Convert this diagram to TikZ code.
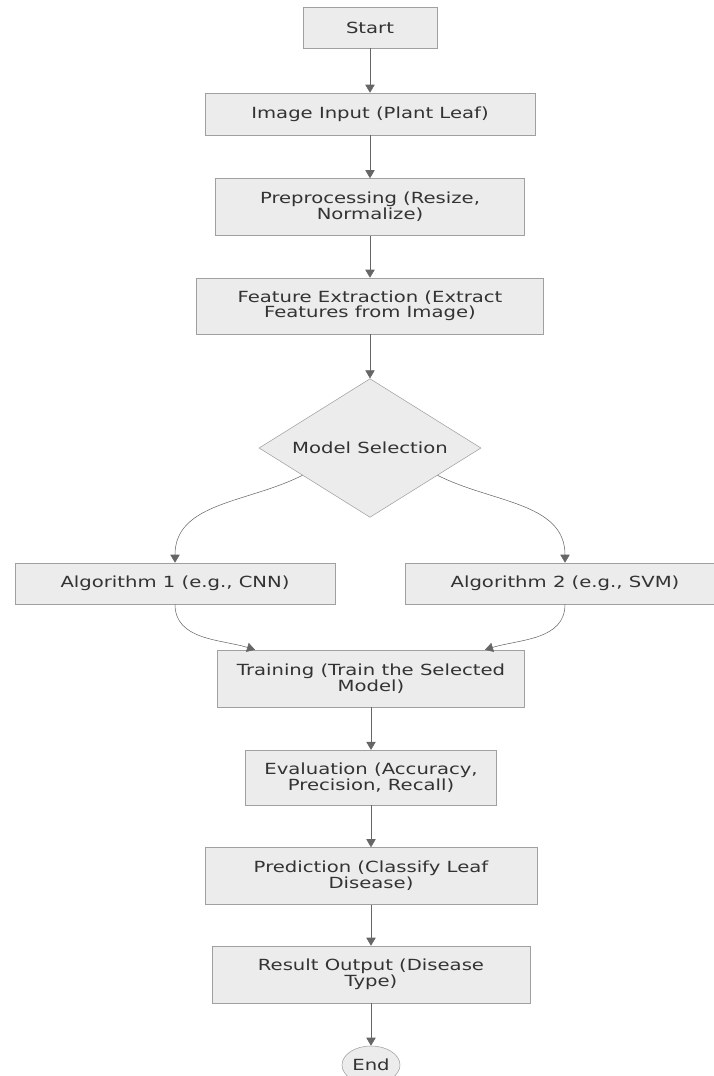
\documentclass[tikz,border=0pt]{standalone}
\usepackage{fontspec}
\setmainfont{DejaVu Sans}[FakeStretch=1.28]
\usepackage[HTML]{xcolor}
\usetikzlibrary{positioning, arrows.meta, shapes.geometric}
\definecolor{boxfill}{HTML}{ECECEC}
\definecolor{boxline}{HTML}{A0A0A0}
\definecolor{flow}{HTML}{666666}
\definecolor{ink}{HTML}{333333}

\begin{document}
\begin{tikzpicture}[x=0.75pt, y=-0.75pt,
  stepbox/.style={draw=boxline, fill=boxfill, text=ink, align=center, inner sep=0pt,
    font=\fontsize{11.5}{11}\selectfont},
  choice/.style={diamond, shape aspect=1.6, draw=boxline, fill=boxfill, text=ink, inner sep=0pt,
    font=\fontsize{11.5}{11}\selectfont},
  flowline/.style={draw=flow, -{Triangle[length=6pt, width=7pt]}}]
\clip (0,0) rectangle (714,1076);

\node[stepbox, minimum width=100.5pt, minimum height=30.75pt] (start)  at (370,27.5)  {Start};
\node[stepbox, minimum width=247.5pt, minimum height=31.5pt]  (input)  at (370,114)   {Image Input (Plant Leaf)};
\node[stepbox, minimum width=232pt,   minimum height=42.75pt] (prep)   at (370,207)   {Preprocessing (Resize,\\Normalize)};
\node[stepbox, minimum width=260pt,   minimum height=42pt]    (feat)   at (370,306)   {Feature Extraction (Extract\\Features from Image)};
\node[choice,  minimum width=166.5pt, minimum height=104pt]   (sel)    at (370,448)   {Model Selection};
\node[stepbox, minimum width=240pt,   minimum height=30.75pt] (alg1)   at (175,583.5) {Algorithm 1 (e.g., CNN)};
\node[stepbox, minimum width=240pt,   minimum height=30.75pt] (alg2)   at (565,583.5) {Algorithm 2 (e.g., SVM)};
\node[stepbox, minimum width=230pt,   minimum height=42.75pt] (train)  at (371,678.5) {Training (Train the Selected\\Model)};
\node[stepbox, minimum width=188pt,   minimum height=41pt]    (eval)   at (371,777.5) {Evaluation (Accuracy,\\Precision, Recall)};
\node[stepbox, minimum width=249pt,   minimum height=42.75pt] (pred)   at (371,876)   {Prediction (Classify Leaf\\Disease)};
\node[stepbox, minimum width=238.5pt, minimum height=42.75pt] (result) at (371,974.5) {Result Output (Disease\\Type)};
\node[stepbox, ellipse, minimum width=43.5pt, minimum height=28.5pt] (end) at (371,1065) {End};

\draw[flowline] (start) -- (input);
\draw[flowline] (input) -- (prep);
\draw[flowline] (prep) -- (feat);
\draw[flowline] (feat) -- (sel);
\draw[flowline] (sel.202) to[out=-153, in=90] (alg1.north);
\draw[flowline] (sel.-22) to[out=-27, in=90] (alg2.north);
\draw[flowline] (alg1.south) to[out=-90, in=163] ([xshift=-87pt]train.north);
\draw[flowline] (alg2.south) to[out=-90, in=17] ([xshift=85.5pt]train.north);
\draw[flowline] (train) -- (eval);
\draw[flowline] (eval) -- (pred);
\draw[flowline] (pred) -- (result);
\draw[flowline] (result) -- (end);
\end{tikzpicture}
\end{document}
